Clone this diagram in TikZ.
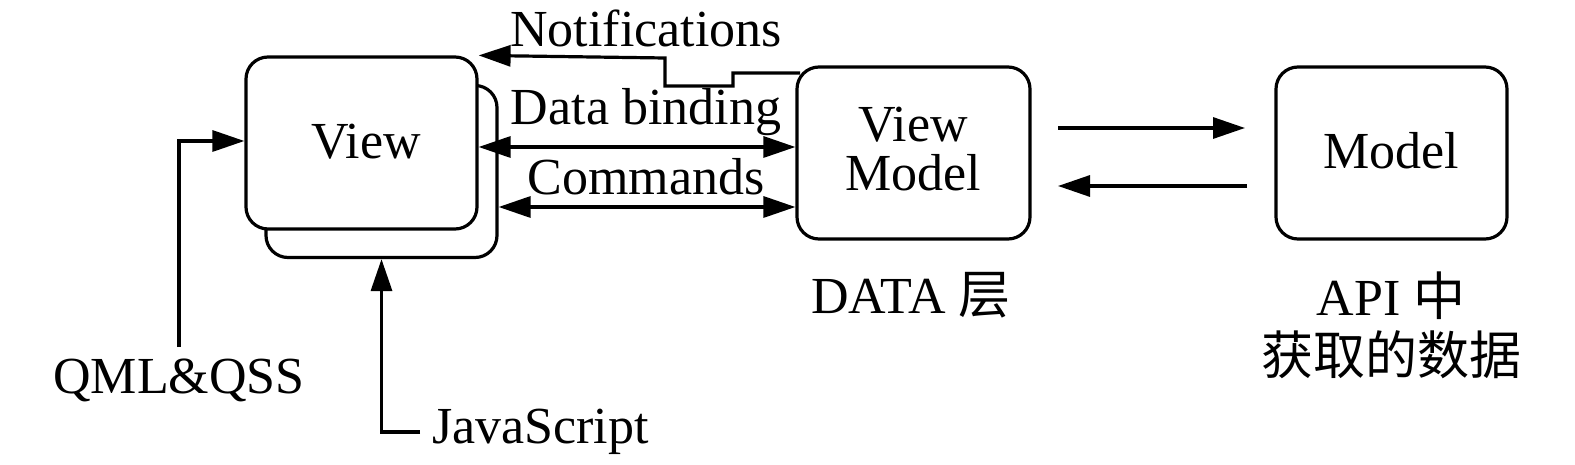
\documentclass[tikz,border=0pt]{standalone}
\usepackage{fontspec}
\setmainfont{Liberation Serif}
\newfontfamily\cjk{Noto Sans CJK SC}
\usetikzlibrary{arrows.meta}
\begin{document}
\begin{tikzpicture}[x=1pt,y=-1pt,
  box/.style={draw,line width=3.2pt,rounded corners=22pt,minimum width=231pt,minimum height=172pt,inner sep=0pt,fill=white},
  lbl/.style={font=\fontsize{52}{58}\selectfont,inner sep=0pt},
  arr/.style={line width=3.2pt,-{Triangle[length=32pt,width=21pt]}},
  darr/.style={line width=3.2pt,{Triangle[length=32pt,width=21pt]}-{Triangle[length=32pt,width=21pt]}}]
\useasboundingbox (0,0) rectangle (1575,465);
% boxes
\node[box] (vb) at (381.5,171.5) {};
\node[box] (vf) at (361.5,143) {};
\node[box,minimum width=233pt] (vm) at (913.5,153) {};
\node[box] (md) at (1391.5,153) {};
% texts
\node[lbl,anchor=base] (tview) at (366,159) {View};
\node[lbl,anchor=base] (tvm1) at (913,142) {View};
\node[lbl,anchor=base] (tvm2) at (913,191) {Model};
\node[lbl,anchor=base] (tmd) at (1391,169) {Model};
\node[lbl,anchor=base] (tnot) at (646,47) {Notifications};
\node[lbl,anchor=base] (tdb) at (646,125) {Data binding};
\node[lbl,anchor=base] (tcmd) at (646,195) {Commands};
\node[lbl,anchor=base] (tdata) at (911,313) {DATA {\cjk 层}};
\node[lbl,anchor=base] (tapi) at (1391,316) {API {\cjk 中}};
\node[lbl,anchor=base] (tget) at (1391,374) {\cjk 获取的数据};
\node[lbl,anchor=base] (tqml) at (179,393) {QML\&QSS};
\node[lbl,anchor=base west] (tjs) at (432,443) {JavaScript};
% connectors
\coordinate (n1) at (800,73);
\draw[arr] (n1) -- (733,73) -- (733,86) -- (665,86) -- (665,58) -- (vf.north east);
\draw[darr] (vf.east |- 0,147) -- (vm.west |- 0,147);
\draw[darr] (vb.east |- 0,207) -- (vm.west |- 0,207);
\coordinate (m1) at (1058,128);
\coordinate (m2) at (1245,128);
\coordinate (m3) at (1247,186);
\coordinate (m4) at (1058,186);
\draw[arr] (m1) -- (m2);
\draw[arr] (m3) -- (m4);
\coordinate (q1) at (179,347);
\draw[arr] (q1) |- (vf.west |- 0,141);
\coordinate (j1) at (420,432);
\draw[arr] (j1) -| (vb.south);
\end{tikzpicture}
\end{document}
